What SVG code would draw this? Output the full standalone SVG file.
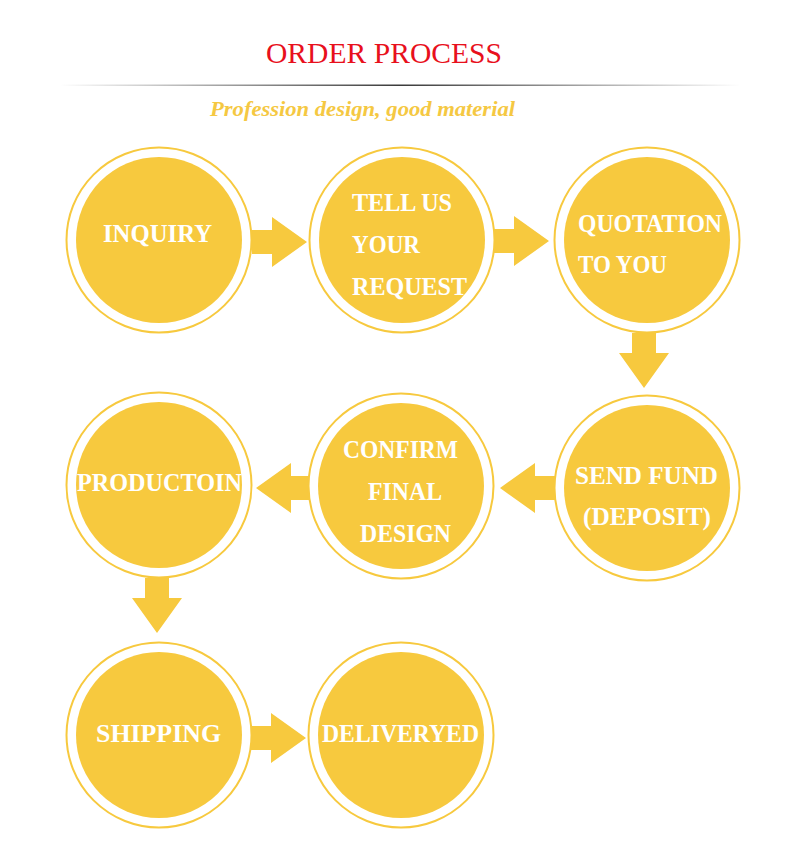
<svg xmlns="http://www.w3.org/2000/svg" xmlns:xlink="http://www.w3.org/1999/xlink" width="800" height="868" viewBox="0 0 800 868">
<style>
.ring{fill:#ffffff;stroke:#F7C93E;stroke-width:2}
.disk{fill:#F7C93E}
.lbl{font-family:"Liberation Serif","Times New Roman",serif;font-weight:bold;font-size:26px;fill:#ffffff}
.arrow{fill:#F7C93E}
</style>
<defs>
<linearGradient id="lineGrad" x1="0" y1="0" x2="1" y2="0">
<stop offset="0" stop-color="#ffffff"/>
<stop offset="0.5" stop-color="#3a3a3a"/>
<stop offset="1" stop-color="#ffffff"/>
</linearGradient>
<path id="arr" d="M0,-12 H20 V-25 L55,0 L20,25 V12 H0 Z"/>
</defs>
<rect x="0" y="0" width="800" height="868" fill="#ffffff"/>
<text x="266" y="63" font-family="'Liberation Serif','Times New Roman',serif" font-size="28.5" fill="#E8101C" textLength="236" lengthAdjust="spacingAndGlyphs">ORDER PROCESS</text>
<rect x="60" y="84.5" width="680" height="1.5" fill="url(#lineGrad)"/>
<text x="210" y="116" font-family="'Liberation Serif',serif" font-style="italic" font-weight="bold" font-size="22" fill="#F5C842" textLength="305" lengthAdjust="spacingAndGlyphs">Profession design, good material</text>

<g id="connectors" class="arrow">
<use xlink:href="#arr" transform="translate(252,242)"/>
<use xlink:href="#arr" transform="translate(494,241)"/>
<use xlink:href="#arr" transform="translate(644,333) rotate(90)"/>
<use xlink:href="#arr" transform="translate(555,488) rotate(180)"/>
<use xlink:href="#arr" transform="translate(311,488) rotate(180)"/>
<use xlink:href="#arr" transform="translate(157,578) rotate(90)"/>
<use xlink:href="#arr" transform="translate(251,738)"/>
</g>

<g id="node-inquiry">
<circle class="ring" cx="159" cy="240" r="92.5"/>
<circle class="disk" cx="159" cy="240" r="83"/>
<text class="lbl" x="103" y="242" textLength="109" lengthAdjust="spacingAndGlyphs">INQUIRY</text>
</g>
<g id="node-request">
<circle class="ring" cx="402" cy="240" r="92.5"/>
<circle class="disk" cx="402" cy="240" r="83"/>
<text class="lbl" x="352" y="211" textLength="100" lengthAdjust="spacingAndGlyphs">TELL US</text>
<text class="lbl" x="352" y="253" textLength="68" lengthAdjust="spacingAndGlyphs">YOUR</text>
<text class="lbl" x="352" y="295" textLength="115" lengthAdjust="spacingAndGlyphs">REQUEST</text>
</g>
<g id="node-quotation">
<circle class="ring" cx="647" cy="240" r="92.5"/>
<circle class="disk" cx="647" cy="240" r="83"/>
<text class="lbl" x="578" y="232" textLength="144" lengthAdjust="spacingAndGlyphs">QUOTATION</text>
<text class="lbl" x="578" y="273" textLength="89" lengthAdjust="spacingAndGlyphs">TO YOU</text>
</g>
<g id="node-sendfund">
<circle class="ring" cx="647" cy="488" r="92.5"/>
<circle class="disk" cx="647" cy="488" r="83"/>
<text class="lbl" x="575" y="484" textLength="143" lengthAdjust="spacingAndGlyphs">SEND FUND</text>
<text class="lbl" x="583" y="525" textLength="128" lengthAdjust="spacingAndGlyphs">(DEPOSIT)</text>
</g>
<g id="node-confirm">
<circle class="ring" cx="401" cy="486" r="92.5"/>
<circle class="disk" cx="401" cy="486" r="83"/>
<text class="lbl" x="343" y="458" textLength="115" lengthAdjust="spacingAndGlyphs">CONFIRM</text>
<text class="lbl" x="368" y="500" textLength="74" lengthAdjust="spacingAndGlyphs">FINAL</text>
<text class="lbl" x="360" y="542" textLength="91" lengthAdjust="spacingAndGlyphs">DESIGN</text>
</g>
<g id="node-production">
<circle class="ring" cx="159" cy="485" r="92.5"/>
<circle class="disk" cx="159" cy="485" r="83"/>
<text class="lbl" x="77" y="491" textLength="165" lengthAdjust="spacingAndGlyphs">PRODUCTOIN</text>
</g>
<g id="node-shipping">
<circle class="ring" cx="159" cy="735" r="92.5"/>
<circle class="disk" cx="159" cy="735" r="83"/>
<text class="lbl" x="96" y="742" textLength="125" lengthAdjust="spacingAndGlyphs">SHIPPING</text>
</g>
<g id="node-delivered">
<circle class="ring" cx="401" cy="735" r="92.5"/>
<circle class="disk" cx="401" cy="735" r="83"/>
<text class="lbl" x="322" y="742" textLength="157" lengthAdjust="spacingAndGlyphs">DELIVERYED</text>
</g>
</svg>
